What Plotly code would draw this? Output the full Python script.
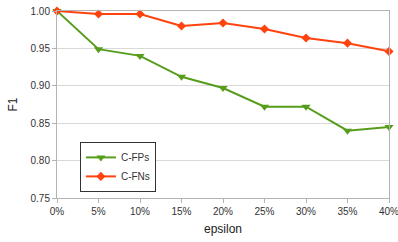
import plotly.graph_objects as go

categories = ["0%", "5%", "10%", "15%", "20%", "25%", "30%", "35%", "40%"]
c_fps = [1.000, 0.949, 0.940, 0.912, 0.897, 0.872, 0.872, 0.840, 0.845]
c_fns = [1.000, 0.996, 0.996, 0.980, 0.984, 0.976, 0.964, 0.957, 0.946]
y_ticks = [0.75, 0.80, 0.85, 0.90, 0.95, 1.00]

x = list(range(len(categories)))

fig = go.Figure()
fig.add_trace(go.Scatter(x=x, y=c_fps, name="C-FPs", mode="lines+markers",
                         line=dict(color="#579d1c", width=2),
                         marker=dict(symbol="triangle-down", size=8, color="#579d1c"),
                         cliponaxis=False))
fig.add_trace(go.Scatter(x=x, y=c_fns, name="C-FNs", mode="lines+markers",
                         line=dict(color="#ff420e", width=2),
                         marker=dict(symbol="diamond", size=7, color="#ff420e"),
                         cliponaxis=False))

fig.update_layout(
    width=398, height=242,
    margin=dict(l=57, r=9, t=11, b=44, autoexpand=False),
    paper_bgcolor="white", plot_bgcolor="white",
    font=dict(family="Liberation Sans, Arial, sans-serif", size=10, color="#333333"),
    showlegend=True,
    legend=dict(x=0.069, y=0.30, xanchor="left", yanchor="top",
                bordercolor="#333333", borderwidth=1, bgcolor="white",
                font=dict(size=10), tracegroupgap=0, itemwidth=30),
    xaxis=dict(range=[0, 8], tickvals=x, ticktext=categories,
               showgrid=False, showline=True, linecolor="#b3b3b3", mirror=True,
               ticks="outside", ticklen=4, tickcolor="#b3b3b3",
               ticklabeloverflow="allow", automargin=False,
               title=dict(text="epsilon", font=dict(size=12, color="#222222"), standoff=8),
               zeroline=False),
    yaxis=dict(range=[0.75, 1.0], tickvals=y_ticks, tickformat=".2f",
               showgrid=True, gridcolor="#d9d9d9", showline=True, linecolor="#b3b3b3",
               mirror=True, ticks="outside", ticklen=4, tickcolor="#b3b3b3",
               automargin=False,
               title=dict(text="F1", font=dict(size=12, color="#222222"), standoff=10),
               zeroline=False),
)

fig.write_html("out.html", config={"displayModeBar": False},
               post_script="document.body.style.margin='0';document.body.style.overflow='hidden';")
